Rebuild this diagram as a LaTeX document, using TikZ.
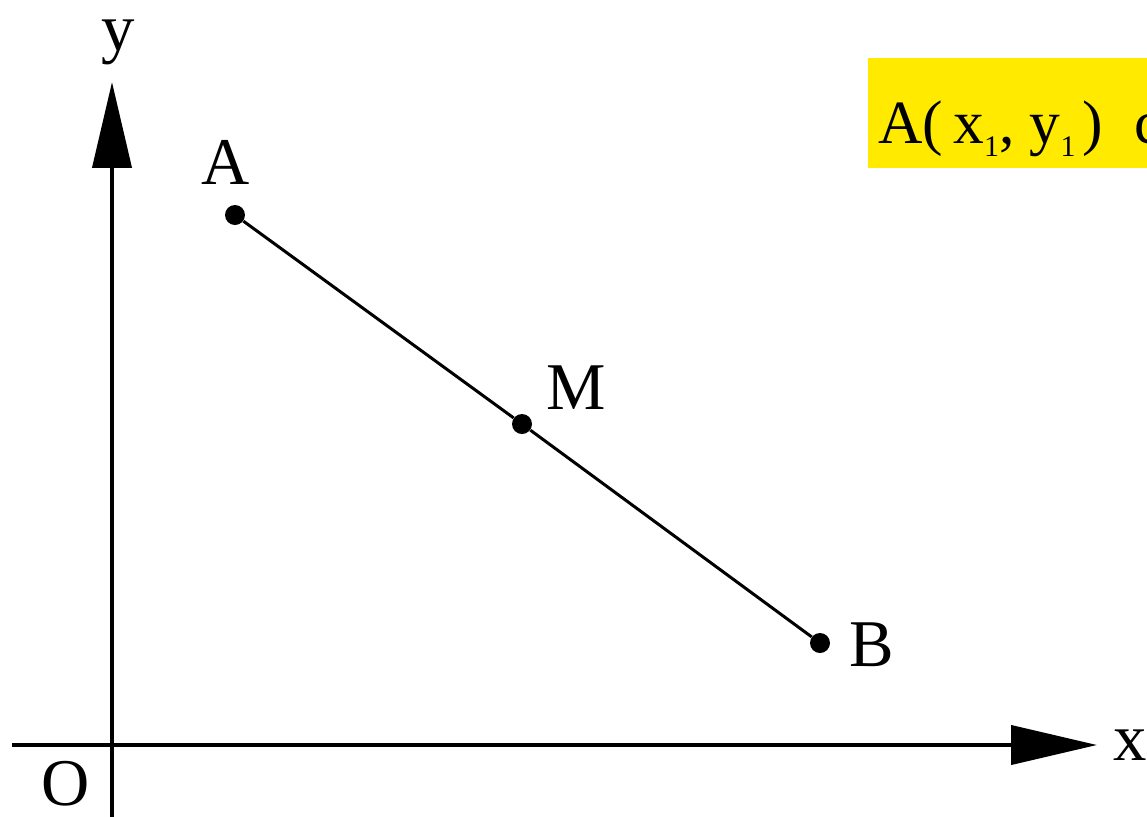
\documentclass[tikz,border=0pt]{standalone}
\usepackage{fontspec}
\setmainfont{Liberation Serif}
\usepackage{tikz}
\usetikzlibrary{arrows.meta, positioning}
\definecolor{hlyellow}{RGB}{255,234,0}
\newcommand{\lowone}{\raisebox{-0.22em}{\fontsize{17}{17}\selectfont 1}}

\begin{document}
\begin{tikzpicture}[
    x = 0.02cm, y = -0.02cm,
    font       = \fontsize{38}{40}\selectfont,
    axis/.style = {line width=0.08cm, -{Triangle[length=1.72cm, width=0.78cm]}},
    seg/.style  = {line width=0.06cm},
    pt/.style   = {circle, fill, inner sep=0pt, minimum size=0.4cm},
    lbl/.style  = {inner sep=0pt},
    hl/.style   = {fill=hlyellow, anchor=base west, inner xsep=0.2cm,
                   inner ysep=0pt, text height=1.7cm, text depth=0.5cm,
                   font=\fontsize{35}{37}\selectfont},
  ]
  \clip (0,0) rectangle (1147,816);
  % axes
  \coordinate (xs) at (12,745);
  \coordinate (xe) at (1097,745);
  \coordinate (ys) at (112,830);
  \coordinate (ye) at (112,82);
  \draw[axis] (xs) -- (xe);
  \draw[axis] (ys) -- (ye);
  \node[lbl] (xl) at (1130,745) {x};
  \node[lbl] (yl) at (118,42) {y};
  \node[lbl] (O) at (66,784) {O};
  % segment AB with midpoint M
  \node[pt] (A) at (235,215) {};
  \node[pt] (M) at (522,424) {};
  \node[pt] (B) at (820,643) {};
  \draw[seg] (A) -- (M) -- (B);
  \node[lbl] (Al) at (226,162) {A};
  \node[lbl] (Ml) at (576,388) {M};
  \node[lbl] (Bl) at (872,645) {B};
  % highlighted text
  \node[hl] (note) at (868,143) {A(\,x\lowone, y\lowone\hspace{0.12em})\hspace{0.5em}c};
\end{tikzpicture}
\end{document}
